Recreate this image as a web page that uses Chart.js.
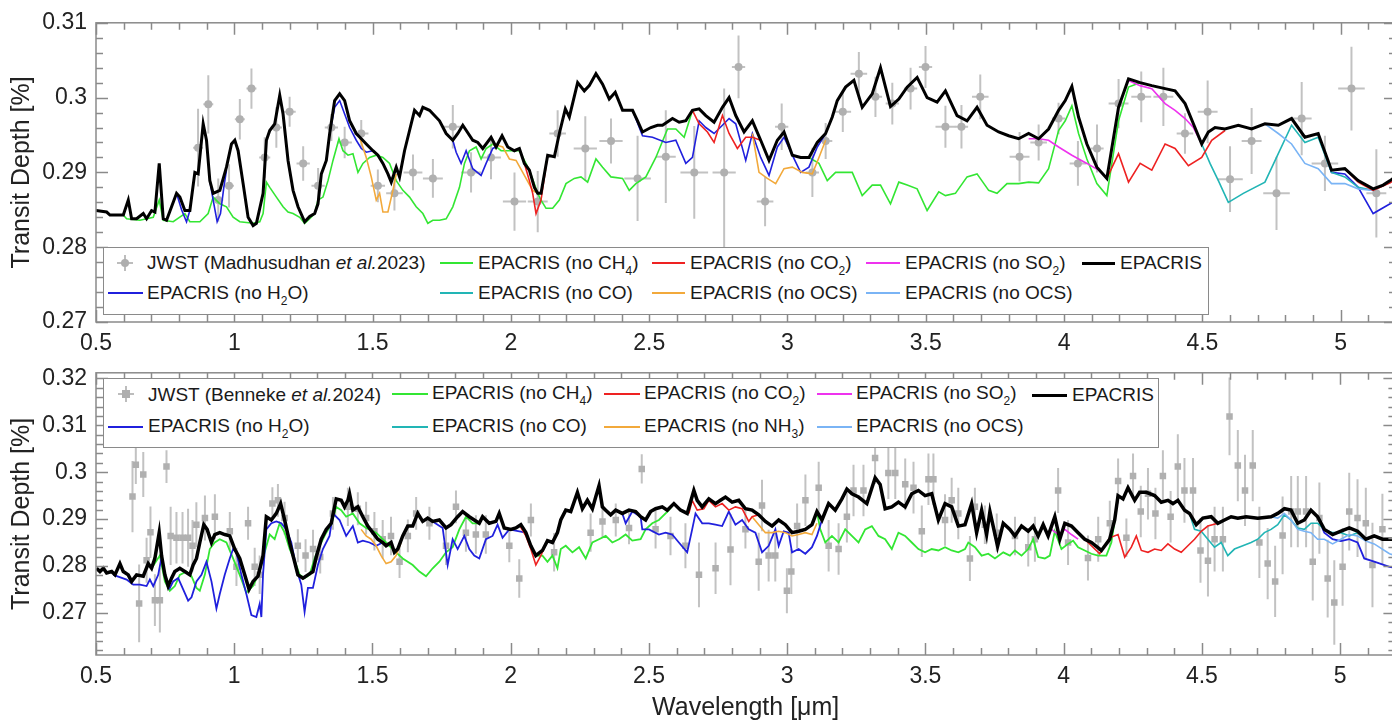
<!DOCTYPE html>
<html>
<head>
<meta charset="utf-8">
<script src="https://cdn.jsdelivr.net/npm/chart.js@4.4.0/dist/chart.umd.min.js"></script>
<style>
  html, body { margin: 0; padding: 0; overflow: hidden; background: #fff; }
  body { width: 1392px; height: 721px; position: relative; font-family: "Liberation Sans", Arial, sans-serif; }
  .wrap { position: absolute; left: 0; width: 1400px; }
  #wrapTop { top: 0; height: 350px; }
  #wrapBot { top: 350px; height: 371px; }
  .lg { position: absolute; border: 1px solid #8a8a8a; background: #fff; box-sizing: border-box; }
  .t { position: absolute; font-size: 19px; line-height: 22px; color: #1a1a1a; white-space: nowrap; }
  .t sub { font-size: 12px; line-height: 0; vertical-align: -6px; }
  .ln { position: absolute; height: 0; }
  .bar { position: absolute; background: #bdbdbd; }
  .dot { position: absolute; background: #aeaeae; }
</style>
</head>
<body>
<div class="wrap" id="wrapTop"><canvas id="topChart"></canvas></div>
<div class="wrap" id="wrapBot"><canvas id="botChart"></canvas></div>

<!-- top legend -->
<div class="lg" style="left:103px;top:247px;width:1106px;height:68px"></div>
<div class="bar" style="left:117px;top:262px;width:16px;height:2px"></div>
<div class="bar" style="left:124px;top:255px;width:2px;height:16px"></div>
<div class="dot" style="left:121px;top:259px;width:8px;height:8px;border-radius:50%"></div>
<div class="t" style="left:147px;top:252px">JWST (Madhusudhan <i>et al.</i>2023)</div>
<div class="ln" style="left:440px;top:262px;width:33px;border-top:2px solid #33e633"></div>
<div class="t" style="left:478px;top:252px">EPACRIS (no CH<sub>4</sub>)</div>
<div class="ln" style="left:652px;top:262px;width:33px;border-top:2px solid #ee2222"></div>
<div class="t" style="left:690px;top:252px">EPACRIS (no CO<sub>2</sub>)</div>
<div class="ln" style="left:866px;top:262px;width:34px;border-top:2px solid #ee33ee"></div>
<div class="t" style="left:905px;top:252px">EPACRIS (no SO<sub>2</sub>)</div>
<div class="ln" style="left:1082px;top:262px;width:33px;border-top:3px solid #000"></div>
<div class="t" style="left:1120px;top:252px">EPACRIS</div>
<div class="ln" style="left:108px;top:292px;width:35px;border-top:2px solid #2020dd"></div>
<div class="t" style="left:147px;top:282px">EPACRIS (no H<sub>2</sub>O)</div>
<div class="ln" style="left:440px;top:292px;width:33px;border-top:2px solid #22b5b5"></div>
<div class="t" style="left:478px;top:282px">EPACRIS (no CO)</div>
<div class="ln" style="left:652px;top:292px;width:33px;border-top:2px solid #f2a93b"></div>
<div class="t" style="left:690px;top:282px">EPACRIS (no OCS)</div>
<div class="ln" style="left:866px;top:292px;width:34px;border-top:2px solid #7ab4f5"></div>
<div class="t" style="left:905px;top:282px">EPACRIS (no OCS)</div>

<!-- bottom legend -->
<div class="lg" style="left:103px;top:378px;width:1056px;height:70px"></div>
<div class="bar" style="left:118px;top:393px;width:16px;height:2px"></div>
<div class="bar" style="left:125px;top:386px;width:2px;height:16px"></div>
<div class="dot" style="left:122px;top:390px;width:8px;height:8px"></div>
<div class="t" style="left:148px;top:384px">JWST (Benneke <i>et al.</i>2024)</div>
<div class="ln" style="left:392px;top:393px;width:36px;border-top:2px solid #33e633"></div>
<div class="t" style="left:432px;top:382px">EPACRIS (no CH<sub>4</sub>)</div>
<div class="ln" style="left:604px;top:393px;width:36px;border-top:2px solid #ee2222"></div>
<div class="t" style="left:644px;top:382px">EPACRIS (no CO<sub>2</sub>)</div>
<div class="ln" style="left:817px;top:393px;width:35px;border-top:2px solid #ee33ee"></div>
<div class="t" style="left:856px;top:382px">EPACRIS (no SO<sub>2</sub>)</div>
<div class="ln" style="left:1032px;top:394px;width:35px;border-top:3px solid #000"></div>
<div class="t" style="left:1072px;top:384px">EPACRIS</div>
<div class="ln" style="left:108px;top:426px;width:35px;border-top:2px solid #2020dd"></div>
<div class="t" style="left:148px;top:415px">EPACRIS (no H<sub>2</sub>O)</div>
<div class="ln" style="left:392px;top:426px;width:36px;border-top:2px solid #22b5b5"></div>
<div class="t" style="left:432px;top:415px">EPACRIS (no CO)</div>
<div class="ln" style="left:604px;top:426px;width:36px;border-top:2px solid #f2a93b"></div>
<div class="t" style="left:644px;top:415px">EPACRIS (no NH<sub>3</sub>)</div>
<div class="ln" style="left:817px;top:426px;width:35px;border-top:2px solid #7ab4f5"></div>
<div class="t" style="left:856px;top:415px">EPACRIS (no OCS)</div>

<script>
const FONT = '"Liberation Sans", Arial, sans-serif';

// axis ticks
const X_TICKS = [0.5, 1, 1.5, 2, 2.5, 3, 3.5, 4, 4.5, 5];
const TOP_Y_TICKS = [0.27, 0.28, 0.29, 0.3, 0.31];
const BOT_Y_TICKS = [0.27, 0.28, 0.29, 0.3, 0.31, 0.32];

// ---- top panel (Madhusudhan et al. 2023) ----
// observations: [wavelength, depth, yErr, xErr]
const TOP_OBS = [
  [0.869,0.2933,0.0052,0.018],[0.906,0.2991,0.0039,0.018],[0.942,0.2863,0.0029,0.018],[0.981,0.2882,0.0029,0.018],
  [1.020,0.2971,0.0027,0.018],[1.062,0.3012,0.0027,0.018],[1.110,0.2920,0.0027,0.020],[1.152,0.2960,0.0027,0.020],
  [1.200,0.2981,0.0020,0.022],[1.249,0.2912,0.0023,0.024],[1.303,0.2882,0.0024,0.024],[1.351,0.2960,0.0018,0.024],
  [1.399,0.2940,0.0021,0.026],[1.459,0.2952,0.0018,0.026],[1.519,0.2882,0.0022,0.026],[1.579,0.2872,0.0023,0.030],
  [1.646,0.2900,0.0024,0.034],[1.718,0.2892,0.0026,0.036],[1.790,0.2961,0.0029,0.036],[1.856,0.2900,0.0027,0.036],
  [1.928,0.2920,0.0029,0.036],[2.013,0.2861,0.0039,0.042],[2.097,0.2861,0.0041,0.036],[2.169,0.2952,0.0031,0.030],
  [2.269,0.2932,0.0043,0.042],[2.362,0.2942,0.0030,0.042],[2.458,0.2892,0.0057,0.048],[2.560,0.2921,0.0062,0.036],
  [2.663,0.2900,0.0062,0.050],[2.771,0.2900,0.0112,0.042],[2.823,0.3041,0.0042,0.024],[2.919,0.2861,0.0033,0.030],
  [2.979,0.2961,0.0031,0.024],[3.090,0.2900,0.0033,0.024],[3.138,0.2942,0.0024,0.024],[3.200,0.2981,0.0027,0.030],
  [3.258,0.3032,0.0029,0.030],[3.318,0.3001,0.0027,0.024],[3.379,0.2992,0.0028,0.024],[3.445,0.3012,0.0028,0.024],
  [3.499,0.3041,0.0028,0.024],[3.571,0.2961,0.0028,0.036],[3.629,0.2961,0.0029,0.024],[3.697,0.3001,0.0030,0.030],
  [3.839,0.2921,0.0033,0.036],[3.908,0.2940,0.0024,0.030],[3.980,0.2972,0.0021,0.024],[4.050,0.2912,0.0030,0.030],
  [4.119,0.2932,0.0032,0.024],[4.197,0.2992,0.0033,0.036],[4.279,0.3001,0.0034,0.036],[4.359,0.3001,0.0039,0.036],
  [4.437,0.2952,0.0027,0.030],[4.519,0.2981,0.0042,0.036],[4.600,0.2891,0.0044,0.046],[4.678,0.2942,0.0044,0.036],
  [4.768,0.2872,0.0049,0.048],[4.859,0.2972,0.0049,0.036],[4.943,0.2912,0.0037,0.048],[5.039,0.3012,0.0056,0.048],
  [5.129,0.2872,0.0059,0.036]
];

const TOP_EPACRIS = [[
  [0.500,0.2849],[0.5385,0.2847],[0.5505,0.2843],[0.5746,0.2843],[0.5987,0.2843],[0.6167,0.2863],[0.6288,0.2838],[0.6468,0.2838],
  [0.6709,0.2845],[0.6829,0.2838],[0.7010,0.2849],[0.7130,0.2847],[0.7286,0.2912],[0.7431,0.2838],[0.7551,0.2836],[0.7732,0.2854],
  [0.7912,0.2872],[0.8032,0.2867],[0.8213,0.2849],[0.8394,0.2849],[0.8574,0.2900],[0.8694,0.2898],[0.8875,0.2965],[0.8995,0.2943],
  [0.9116,0.2889],[0.9236,0.2872],[0.9477,0.2876],[0.9717,0.2907],[0.9898,0.2938],[1.0018,0.2943],[1.0138,0.2929],[1.0319,0.2885],
  [1.0499,0.2840],[1.0680,0.2829],[1.0800,0.2832],[1.1041,0.2872],[1.1161,0.2943],[1.1282,0.2956],[1.1462,0.2965],[1.1643,0.3003],
  [1.1763,0.2978],[1.1943,0.2916],[1.2124,0.2876],[1.2304,0.2854],[1.2545,0.2834],[1.2726,0.2841],[1.2906,0.2845],[1.3026,0.2858],
  [1.3147,0.2898],[1.3327,0.2916],[1.3448,0.2952],[1.3628,0.2996],[1.3809,0.3005],[1.3989,0.2996],[1.4170,0.2969],[1.4410,0.2952],
  [1.4591,0.2945],[1.4771,0.2938],[1.5012,0.2929],[1.5193,0.2923],[1.5373,0.2912],[1.5554,0.2898],[1.5674,0.2887],[1.5854,0.2907],
  [1.5975,0.2894],[1.6155,0.2929],[1.6336,0.2956],[1.6516,0.2983],[1.6697,0.2976],[1.6817,0.2987],[1.7058,0.2983],[1.7419,0.2969],
  [1.7660,0.2952],[1.7900,0.2943],[1.8081,0.2952],[1.8261,0.2963],[1.8622,0.2943],[1.8803,0.2940],[1.8983,0.2932],[1.9284,0.2947],
  [1.9465,0.2934],[1.9681,0.2949],[1.9886,0.2934],[2.0127,0.2929],[2.0307,0.2932],[2.0488,0.2912],[2.0668,0.2903],[2.0849,0.2880],
  [2.0969,0.2872],[2.1089,0.2872],[2.1330,0.2923],[2.1571,0.2921],[2.1751,0.2952],[2.1968,0.2985],[2.2112,0.2974],[2.2413,0.3020],
  [2.2654,0.3009],[2.2834,0.3016],[2.3075,0.3032],[2.3315,0.3018],[2.3556,0.2998],[2.3773,0.3007],[2.4037,0.2983],[2.4398,0.2983],
  [2.4579,0.2969],[2.4759,0.2954],[2.5060,0.2960],[2.5301,0.2963],[2.5481,0.2963],[2.5842,0.2972],[2.6083,0.2967],[2.6324,0.2969],
  [2.6564,0.2983],[2.6805,0.2985],[2.7046,0.2976],[2.7346,0.2967],[2.7648,0.2987],[2.7888,0.3000],[2.8129,0.2976],[2.8430,0.2954],
  [2.8730,0.2969],[2.9031,0.2943],[2.9332,0.2916],[2.9633,0.2943],[2.9874,0.2954],[3.0175,0.2923],[3.0475,0.2920],[3.0776,0.2920],
  [3.1077,0.2940],[3.1378,0.2952],[3.1619,0.2974],[3.1799,0.2996],[3.2100,0.3014],[3.2401,0.3023],[3.2702,0.2987],[3.3063,0.3005],
  [3.3363,0.3040],[3.3724,0.2988],[3.4025,0.2998],[3.4326,0.3014],[3.4687,0.3027],[3.5048,0.3000],[3.5409,0.2994],[3.5710,0.3009],
  [3.6131,0.2976],[3.6492,0.2969],[3.6853,0.2987],[3.7214,0.2963],[3.7635,0.2954],[3.7996,0.2949],[3.8357,0.2945],[3.8718,0.2952],
  [3.9079,0.2945],[3.9440,0.2958],[3.9801,0.2983],[4.0042,0.2996],[4.0282,0.3015],[4.0523,0.2974],[4.0824,0.2938],[4.1185,0.2907],
  [4.1546,0.2892],[4.1968,0.2987],[4.2329,0.3025],[4.2749,0.3020],[4.3171,0.3016],[4.3652,0.3012],[4.4013,0.3009],[4.4374,0.2992],
  [4.4675,0.2965],[4.4976,0.2938],[4.5216,0.2954],[4.5457,0.2960],[4.5818,0.2958],[4.6299,0.2963],[4.6781,0.2958],[4.7262,0.2965],
  [4.7744,0.2963],[4.8225,0.2972],[4.8706,0.2947],[4.9187,0.2952],[4.9669,0.2903],[5.0150,0.2905],[5.0632,0.2889],[5.1173,0.2878],
  [5.1534,0.2883],[5.1787,0.2889],[5.2000,0.2895]
]];

const TOP_NO_CH4 = [
  [[0.5987,0.2843],[0.6107,0.2838],[0.6588,0.2836],[0.7070,0.2840],[0.7286,0.2863],[0.7431,0.2836],[0.7792,0.2834],[0.8213,0.2845],
   [0.8394,0.2834],[0.8755,0.2834],[0.9055,0.2845],[0.9236,0.2867],[0.9477,0.2858],[0.9717,0.2854],[0.9958,0.2840],[1.0199,0.2834],
   [1.0680,0.2832],[1.0921,0.2834],[1.1041,0.2845],[1.1161,0.2887],[1.1282,0.2880],[1.1522,0.2867],[1.1763,0.2854],[1.1943,0.2847],
   [1.2124,0.2845],[1.2365,0.2840],[1.2545,0.2832],[1.2726,0.2838],[1.2906,0.2845],[1.3026,0.2863],[1.3207,0.2867],[1.3388,0.2889],
   [1.3568,0.2916],[1.3785,0.2945],[1.3929,0.2929],[1.4110,0.2923],[1.4290,0.2925],[1.4471,0.2900],[1.4651,0.2912],[1.4892,0.2920],
   [1.5132,0.2923],[1.5373,0.2920],[1.5614,0.2912],[1.5854,0.2889],[1.6095,0.2876],[1.6336,0.2867],[1.6576,0.2854],[1.6817,0.2845],
   [1.6998,0.2832],[1.7178,0.2836],[1.7419,0.2836],[1.7660,0.2838],[1.7900,0.2854],[1.8141,0.2880],[1.8322,0.2912],[1.8502,0.2929],
   [1.8742,0.2934],[1.8923,0.2918],[1.9104,0.2932],[1.9344,0.2938],[1.9645,0.2929],[1.9946,0.2929],[2.0307,0.2929],[2.0668,0.2903],
   [2.0969,0.2872],[2.1089,0.2863],[2.1270,0.2852],[2.1510,0.2852],[2.1751,0.2863],[2.1992,0.2885],[2.2292,0.2892],[2.2533,0.2894],
   [2.2774,0.2887],[2.3075,0.2918],[2.3315,0.2907],[2.3616,0.2894],[2.4037,0.2892],[2.4278,0.2876],[2.4519,0.2885],[2.4880,0.2894],
   [2.5241,0.2920],[2.5662,0.2958],[2.5963,0.2958],[2.6264,0.2947],[2.6564,0.2983]],
  [[3.0776,0.2920],[3.1138,0.2912],[3.1438,0.2889],[3.1739,0.2900],[3.2341,0.2900],[3.2702,0.2869],[3.3063,0.2883],[3.3363,0.2883],
   [3.3724,0.2858],[3.4025,0.2887],[3.4326,0.2883],[3.4687,0.2878],[3.5048,0.2849],[3.5470,0.2874],[3.5710,0.2869],[3.6071,0.2872],
   [3.6492,0.2894],[3.6853,0.2898],[3.7274,0.2876],[3.7575,0.2872],[3.7936,0.2885],[3.8357,0.2885],[3.8718,0.2887],[3.9079,0.2886],
   [3.9440,0.2905],[3.9801,0.2956],[4.0042,0.2969],[4.0282,0.2989],[4.0523,0.2952],[4.0824,0.2918],[4.1185,0.2885],[4.1546,0.2869],
   [4.1968,0.2969],[4.2329,0.3014],[4.2749,0.3020]]
];

const TOP_NO_H2O = [
  [[0.7912,0.2872],[0.8093,0.2850],[0.8273,0.2834],[0.8394,0.2849]],
  [[0.9116,0.2889],[0.9236,0.2863],[0.9380,0.2834],[0.9501,0.2845],[0.9621,0.2880],[0.9717,0.2903]],
  [[1.3448,0.2952],[1.3628,0.2987],[1.3809,0.2996],[1.3989,0.2978],[1.4170,0.2960],[1.4410,0.2943],[1.4591,0.2932],[1.4771,0.2927],[1.5012,0.2929]],
  [[1.7900,0.2943],[1.8021,0.2927],[1.8201,0.2912],[1.8382,0.2929],[1.8622,0.2905],[1.8923,0.2896],[1.9104,0.2912],[1.9344,0.2932],[1.9465,0.2934]],
  [[2.4037,0.2983],[2.4398,0.2983],[2.4759,0.2949],[2.5120,0.2947],[2.5602,0.2940],[2.5963,0.2943],[2.6324,0.2912],[2.6564,0.2920],
   [2.6805,0.2969],[2.7046,0.2960],[2.7346,0.2952],[2.7648,0.2963],[2.7888,0.2972],[2.8129,0.2965],[2.8490,0.2916],[2.8730,0.2952],
   [2.9031,0.2920],[2.9332,0.2896],[2.9633,0.2934],[2.9874,0.2947],[3.0175,0.2923],[3.0475,0.2900],[3.0776,0.2907],[3.1077,0.2934],[3.1378,0.2952]],
  [[4.9187,0.2952],[4.9669,0.2900],[5.0150,0.2898],[5.0632,0.2880],[5.1173,0.2845],[5.1787,0.2858],[5.2000,0.2862]]
];

const TOP_NO_CO2 = [
  [[2.0488,0.2912],[2.0668,0.2889],[2.0788,0.2872],[2.0909,0.2845],[2.1089,0.2863],[2.1330,0.2923]],
  [[2.6564,0.2983],[2.6805,0.2965],[2.7106,0.2954],[2.7346,0.2940],[2.7648,0.2976],[2.7888,0.2952],[2.8189,0.2932],[2.8490,0.2947],[2.8730,0.2947],[2.9031,0.2943]],
  [[4.1546,0.2892],[4.1968,0.2925],[4.2329,0.2887],[4.2749,0.2912],[4.3171,0.2903],[4.3652,0.2938],[4.4013,0.2932],[4.4494,0.2909],[4.4976,0.2920],[4.5337,0.2943],[4.5818,0.2956]],
  [[5.0150,0.2905],[5.0632,0.2887],[5.1173,0.2876],[5.1787,0.2886],[5.2000,0.2892]]
];

const TOP_NO_SO2 = [
  [[3.8718,0.2945],[3.9079,0.2945],[3.9440,0.2943],[3.9801,0.2934],[4.0282,0.2923],[4.0824,0.2912],[4.1245,0.2903],[4.1546,0.2892]],
  [[4.2329,0.3023],[4.2749,0.3016],[4.3171,0.3012],[4.3652,0.2992],[4.4013,0.2983],[4.4374,0.2972],[4.4675,0.2960],[4.4976,0.2938]]
];

const TOP_NO_CO = [
  [[4.4976,0.2938],[4.5276,0.2912],[4.5577,0.2889],[4.5938,0.2860],[4.6480,0.2872],[4.7262,0.2887],[4.7744,0.2925],[4.8225,0.2963],
   [4.8706,0.2940],[4.9187,0.2947],[4.9669,0.2900],[5.0150,0.2894],[5.0632,0.2880],[5.1173,0.2876],[5.1787,0.2887]]
];

const TOP_NO_OCS = [
  [[1.4531,0.2947],[1.4771,0.2920],[1.4952,0.2894],[1.5132,0.2863],[1.5253,0.2872],[1.5373,0.2847],[1.5554,0.2847],[1.5734,0.2876],[1.5854,0.2898]],
  [[1.9344,0.2938],[1.9705,0.2934],[1.9946,0.2918],[2.0187,0.2916],[2.0427,0.2900],[2.0788,0.2876],[2.0969,0.2872]],
  [[2.8730,0.2952],[2.8971,0.2900],[2.9272,0.2892],[2.9573,0.2885],[2.9874,0.2905],[3.0175,0.2907],[3.0535,0.2900],[3.0897,0.2898],[3.1138,0.2920],[3.1378,0.2943]]
];

const TOP_NO_OCS_B = [
  [[4.7262,0.2965],[4.7744,0.2952],[4.8225,0.2938],[4.8706,0.2912],[4.9187,0.2905],[4.9669,0.2885],[5.0150,0.2885],[5.0632,0.2878],
   [5.1173,0.2876],[5.1787,0.2887],[5.2000,0.2890]]
];

// ---- bottom panel (Benneke et al. 2024) ----
// observations: [wavelength, depth, yErr]
const BOT_OBS = [
  [0.632,0.2948,0.0076],[0.644,0.3016,0.0041],[0.656,0.2720,0.0083],[0.671,0.2995,0.0048],[0.683,0.2812,0.0048],[0.697,0.2872,0.0055],
  [0.713,0.2727,0.0055],[0.731,0.2727,0.0069],[0.755,0.3012,0.0035],[0.770,0.2864,0.0062],[0.791,0.2860,0.0055],[0.813,0.2860,0.0055],
  [0.833,0.2860,0.0062],[0.849,0.2843,0.0055],[0.863,0.2888,0.0048],[0.894,0.2902,0.0048],[0.930,0.2905,0.0048],[0.984,0.2874,0.0041],
  [1.008,0.2798,0.0041],[1.050,0.2891,0.0035],[1.074,0.2798,0.0041],[1.092,0.2781,0.0041],[1.138,0.2933,0.0035],[1.158,0.2940,0.0035],
  [1.182,0.2902,0.0035],[1.230,0.2843,0.0035],[1.258,0.2822,0.0035],[1.285,0.2836,0.0041],[1.311,0.2819,0.0035],[1.357,0.2912,0.0035],
  [1.411,0.2926,0.0041],[1.447,0.2922,0.0035],[1.477,0.2902,0.0035],[1.507,0.2874,0.0041],[1.537,0.2857,0.0041],[1.567,0.2864,0.0041],
  [1.598,0.2809,0.0035],[1.628,0.2864,0.0035],[1.658,0.2912,0.0035],[1.706,0.2891,0.0035],[1.766,0.2843,0.0041],[1.802,0.2926,0.0035],
  [1.838,0.2871,0.0041],[1.874,0.2867,0.0041],[1.910,0.2867,0.0041],[1.995,0.2843,0.0035],[2.031,0.2773,0.0041],[2.073,0.2898,0.0035],
  [2.157,0.2829,0.0041],[2.289,0.2871,0.0041],[2.332,0.2895,0.0035],[2.380,0.2898,0.0035],[2.428,0.2881,0.0035],[2.474,0.3007,0.0031],
  [2.524,0.2878,0.0041],[2.578,0.2864,0.0041],[2.632,0.2843,0.0048],[2.681,0.2781,0.0069],[2.741,0.2795,0.0055],[2.795,0.2835,0.0076],
  [2.849,0.2878,0.0041],[2.897,0.2809,0.0062],[2.909,0.2929,0.0055],[2.933,0.2822,0.0055],[2.957,0.2822,0.0055],[2.999,0.2747,0.0048],
  [3.015,0.2788,0.0048],[3.036,0.2885,0.0048],[3.066,0.2940,0.0055],[3.114,0.2967,0.0055],[3.150,0.2843,0.0055],[3.186,0.2836,0.0055],
  [3.216,0.2905,0.0055],[3.240,0.2961,0.0055],[3.276,0.2961,0.0055],[3.318,0.3030,0.0055],[3.366,0.2998,0.0055],[3.391,0.2998,0.0055],
  [3.427,0.2974,0.0055],[3.457,0.2967,0.0055],[3.487,0.2874,0.0055],[3.511,0.2985,0.0055],[3.529,0.2985,0.0055],[3.571,0.2898,0.0055],
  [3.595,0.2940,0.0048],[3.619,0.2912,0.0055],[3.661,0.2816,0.0048],[3.679,0.2926,0.0041],[3.715,0.2888,0.0041],[3.758,0.2871,0.0041],
  [3.824,0.2864,0.0041],[3.872,0.2840,0.0041],[3.896,0.2857,0.0048],[3.980,0.2961,0.0048],[4.016,0.2850,0.0048],[4.088,0.2817,0.0048],
  [4.125,0.2857,0.0048],[4.167,0.2891,0.0048],[4.197,0.2981,0.0048],[4.227,0.2860,0.0041],[4.251,0.2992,0.0048],[4.279,0.2916,0.0055],
  [4.305,0.2954,0.0055],[4.332,0.2912,0.0055],[4.359,0.2992,0.0055],[4.387,0.2905,0.0055],[4.413,0.3012,0.0069],[4.437,0.2961,0.0069],
  [4.468,0.2961,0.0069],[4.495,0.2833,0.0069],[4.522,0.2811,0.0076],[4.546,0.2857,0.0069],[4.576,0.2857,0.0069],[4.600,0.3119,0.0083],
  [4.630,0.3014,0.0076],[4.656,0.2961,0.0076],[4.684,0.3014,0.0076],[4.708,0.2850,0.0076],[4.738,0.2805,0.0076],[4.765,0.2767,0.0076],
  [4.792,0.2865,0.0083],[4.823,0.2916,0.0076],[4.847,0.2916,0.0076],[4.877,0.2916,0.0076],[4.901,0.2809,0.0083],[4.925,0.2902,0.0076],
  [4.955,0.2773,0.0083],[4.979,0.2722,0.0090],[5.009,0.2798,0.0083],[5.033,0.2916,0.0083],[5.063,0.2902,0.0083],[5.093,0.2891,0.0076],
  [5.117,0.2802,0.0090],[5.153,0.2878,0.0076]
];

const BOT_EPACRIS = [[
  [0.502,0.2795],[0.5144,0.2788],[0.5265,0.2795],[0.5385,0.2785],[0.5566,0.2788],[0.5686,0.2781],[0.5866,0.2805],[0.5987,0.2788],
  [0.6167,0.2781],[0.6288,0.2767],[0.6468,0.2781],[0.6709,0.2778],[0.6889,0.2805],[0.7010,0.2795],[0.7130,0.2816],[0.7286,0.2871],
  [0.7371,0.2822],[0.7491,0.2781],[0.7611,0.2757],[0.7732,0.2774],[0.7852,0.2788],[0.8032,0.2795],[0.8213,0.2788],[0.8394,0.2781],
  [0.8514,0.2802],[0.8634,0.2816],[0.8755,0.2850],[0.8899,0.2888],[0.9019,0.2878],[0.9176,0.2850],[0.9296,0.2867],[0.9477,0.2871],
  [0.9657,0.2867],[0.9838,0.2864],[1.0018,0.2836],[1.0199,0.2816],[1.0379,0.2781],[1.0535,0.2750],[1.0680,0.2767],[1.0860,0.2778],
  [1.1041,0.2822],[1.1161,0.2905],[1.1342,0.2898],[1.1522,0.2912],[1.1679,0.2933],[1.1823,0.2898],[1.2004,0.2850],[1.2184,0.2809],
  [1.2304,0.2781],[1.2485,0.2774],[1.2665,0.2781],[1.2846,0.2788],[1.2966,0.2819],[1.3147,0.2857],[1.3327,0.2878],[1.3508,0.2891],
  [1.3688,0.2943],[1.3869,0.2940],[1.3989,0.2926],[1.4110,0.2940],[1.4170,0.2954],[1.4290,0.2919],[1.4471,0.2926],[1.4651,0.2905],
  [1.4832,0.2885],[1.5012,0.2871],[1.5193,0.2857],[1.5373,0.2850],[1.5493,0.2843],[1.5674,0.2850],[1.5794,0.2829],[1.5915,0.2836],
  [1.6095,0.2864],[1.6276,0.2885],[1.6456,0.2885],[1.6637,0.2912],[1.6817,0.2895],[1.6998,0.2902],[1.7178,0.2895],[1.7419,0.2898],
  [1.7660,0.2881],[1.7840,0.2888],[1.8081,0.2905],[1.8261,0.2916],[1.8502,0.2905],[1.8682,0.2898],[1.8863,0.2891],[1.8983,0.2905],
  [1.9224,0.2891],[1.9465,0.2895],[1.9585,0.2912],[1.9766,0.2881],[2.0006,0.2878],[2.0187,0.2881],[2.0367,0.2888],[2.0548,0.2871],
  [2.0728,0.2843],[2.0909,0.2822],[2.1149,0.2833],[2.1330,0.2854],[2.1510,0.2850],[2.1691,0.2871],[2.1811,0.2898],[2.1992,0.2919],
  [2.2172,0.2916],[2.2413,0.2957],[2.2593,0.2922],[2.2774,0.2940],[2.2954,0.2922],[2.3075,0.2947],[2.3195,0.2971],[2.3315,0.2926],
  [2.3436,0.2919],[2.3616,0.2909],[2.3797,0.2919],[2.4037,0.2912],[2.4278,0.2919],[2.4519,0.2916],[2.4699,0.2905],[2.4880,0.2898],
  [2.5060,0.2916],[2.5241,0.2922],[2.5481,0.2926],[2.5662,0.2919],[2.5903,0.2933],[2.6143,0.2919],[2.6384,0.2912],[2.6625,0.2961],
  [2.6745,0.2940],[2.6926,0.2926],[2.7166,0.2943],[2.7407,0.2933],[2.7587,0.2940],[2.7768,0.2947],[2.8009,0.2936],[2.8249,0.2940],
  [2.8490,0.2922],[2.8731,0.2919],[2.8971,0.2909],[2.9212,0.2895],[2.9453,0.2885],[2.9693,0.2898],[2.9934,0.2888],[3.0175,0.2871],
  [3.0415,0.2874],[3.0656,0.2878],[3.0897,0.2888],[3.1077,0.2916],[3.1258,0.2898],[3.1499,0.2933],[3.1739,0.2919],[3.1980,0.2943],
  [3.2160,0.2964],[3.2341,0.2954],[3.2581,0.2947],[3.2882,0.2933],[3.3183,0.2988],[3.3363,0.2974],[3.3544,0.2922],[3.3785,0.2926],
  [3.4025,0.2936],[3.4266,0.2926],[3.4507,0.2954],[3.4747,0.2961],[3.4988,0.2950],[3.5228,0.2954],[3.5469,0.2898],[3.5710,0.2933],
  [3.5950,0.2926],[3.6191,0.2885],[3.6432,0.2888],[3.6672,0.2933],[3.6853,0.2871],[3.7034,0.2919],[3.7214,0.2867],[3.7334,0.2916],
  [3.7611,0.2842],[3.7816,0.2891],[3.8056,0.2878],[3.8237,0.2864],[3.8477,0.2885],[3.8718,0.2874],[3.8898,0.2885],[3.9079,0.2864],
  [3.9260,0.2888],[3.9440,0.2864],[3.9681,0.2905],[3.9861,0.2857],[4.0042,0.2891],[4.0282,0.2885],[4.0523,0.2871],[4.0764,0.2857],
  [4.1004,0.2850],[4.1365,0.2833],[4.1666,0.2857],[4.1847,0.2898],[4.1967,0.2950],[4.2148,0.2943],[4.2328,0.2967],[4.2569,0.2940],
  [4.2749,0.2957],[4.2990,0.2957],[4.3291,0.2950],[4.3531,0.2936],[4.3772,0.2940],[4.3953,0.2933],[4.4133,0.2940],[4.4374,0.2919],
  [4.4555,0.2912],[4.4795,0.2888],[4.5036,0.2902],[4.5337,0.2905],[4.5577,0.2891],[4.5818,0.2898],[4.6059,0.2905],[4.6299,0.2902],
  [4.6600,0.2905],[4.7021,0.2902],[4.7503,0.2905],[4.7744,0.2912],[4.7984,0.2922],[4.8225,0.2919],[4.8465,0.2891],[4.8706,0.2898],
  [4.8947,0.2919],[4.9187,0.2905],[4.9428,0.2878],[4.9729,0.2867],[5.0030,0.2874],[5.0331,0.2881],[5.0632,0.2874],[5.0932,0.2857],
  [5.1233,0.2864],[5.1534,0.2857],[5.1787,0.2857],[5.2000,0.2857]
]];

const BOT_NO_CH4 = [
  [[0.7010,0.2795],[0.7310,0.2822],[0.7491,0.2767],[0.7671,0.2747],[0.7852,0.2757],[0.8032,0.2781],[0.8273,0.2788],[0.8454,0.2778],
   [0.8634,0.2753],[0.8755,0.2747],[0.8935,0.2781],[0.9116,0.2836],[0.9296,0.2850],[0.9477,0.2857],[0.9717,0.2850],[0.9958,0.2816],
   [1.0199,0.2781],[1.0439,0.2743],[1.0680,0.2757],[1.0921,0.2788],[1.1101,0.2829],[1.1282,0.2867],[1.1462,0.2857],[1.1643,0.2891],
   [1.1823,0.2871],[1.2004,0.2836],[1.2184,0.2812],[1.2365,0.2781],[1.2545,0.2774],[1.2726,0.2781],[1.2906,0.2816],[1.3087,0.2843],
   [1.3327,0.2871],[1.3508,0.2888],[1.3688,0.2926],[1.3869,0.2919],[1.4049,0.2905],[1.4290,0.2912],[1.4531,0.2891],[1.4771,0.2881],
   [1.5132,0.2871],[1.5493,0.2850],[1.5854,0.2829],[1.6095,0.2816],[1.6456,0.2802],[1.6697,0.2788],[1.6937,0.2778],[1.7178,0.2795],
   [1.7419,0.2809],[1.7660,0.2829],[1.7900,0.2840],[1.8141,0.2878],[1.8382,0.2905],[1.8622,0.2891],[1.8863,0.2891]],
  [[2.0909,0.2822],[2.1149,0.2822],[2.1330,0.2809],[2.1510,0.2822],[2.1691,0.2795],[2.1811,0.2836],[2.1992,0.2843],[2.2232,0.2829],
   [2.2473,0.2840],[2.2714,0.2816],[2.2954,0.2850],[2.3195,0.2857],[2.3436,0.2864],[2.3676,0.2850],[2.3917,0.2857],[2.4158,0.2867],
   [2.4398,0.2854],[2.4699,0.2857],[2.4880,0.2878],[2.5120,0.2891],[2.5361,0.2898],[2.5722,0.2919],[2.5903,0.2933]],
  [[3.1077,0.2916],[3.1197,0.2878],[3.1378,0.2850],[3.1619,0.2864],[3.1860,0.2850],[3.2100,0.2878],[3.2341,0.2864],[3.2581,0.2850],
   [3.2822,0.2878],[3.3063,0.2885],[3.3303,0.2864],[3.3544,0.2857],[3.3785,0.2836],[3.4025,0.2871],[3.4266,0.2864],[3.4507,0.2850],
   [3.4747,0.2836],[3.4988,0.2829],[3.5228,0.2836],[3.5469,0.2833],[3.5710,0.2840],[3.5950,0.2833],[3.6191,0.2829],[3.6432,0.2836],
   [3.6552,0.2850],[3.6793,0.2840],[3.7034,0.2822],[3.7274,0.2826],[3.7515,0.2816],[3.7816,0.2829],[3.8056,0.2822],[3.8237,0.2833],
   [3.8477,0.2822],[3.8718,0.2836],[3.8898,0.2857],[3.9079,0.2819],[3.9320,0.2816],[3.9500,0.2822],[3.9681,0.2874],[3.9921,0.2836],
   [4.0162,0.2847],[4.0343,0.2854],[4.0523,0.2840],[4.0764,0.2833],[4.1004,0.2826],[4.1245,0.2822],[4.1546,0.2822],[4.1727,0.2850],
   [4.1847,0.2898]]
];

const BOT_NO_H2O = [
  [[0.5626,0.2781],[0.6107,0.2771],[0.6348,0.2760],[0.6588,0.2760],[0.6829,0.2757],[0.6949,0.2771],[0.7070,0.2757],[0.7250,0.2781],
   [0.7371,0.2819],[0.7491,0.2781],[0.7671,0.2753],[0.7792,0.2767],[0.7972,0.2774],[0.8153,0.2750],[0.8333,0.2726],[0.8454,0.2733],
   [0.8634,0.2767],[0.8815,0.2781],[0.8995,0.2809],[0.9176,0.2767],[0.9356,0.2709],[0.9477,0.2740],[0.9657,0.2781],[0.9838,0.2816],
   [0.9958,0.2836],[1.0078,0.2829],[1.0259,0.2781],[1.0439,0.2740],[1.0620,0.2695],[1.0800,0.2691],[1.0921,0.2719],[1.0981,0.2691],
   [1.1041,0.2781],[1.1161,0.2878],[1.1342,0.2891],[1.1522,0.2895],[1.1703,0.2891],[1.1883,0.2878],[1.2064,0.2850],[1.2244,0.2795],
   [1.2425,0.2760],[1.2545,0.2702],[1.2665,0.2753],[1.2846,0.2753],[1.3026,0.2802],[1.3207,0.2836],[1.3448,0.2864],[1.3568,0.2912],
   [1.3809,0.2898],[1.4049,0.2864],[1.4290,0.2885],[1.4471,0.2850],[1.4651,0.2854],[1.4892,0.2850],[1.5132,0.2843],[1.5373,0.2850]],
  [[1.7178,0.2895],[1.7539,0.2881],[1.7720,0.2802],[1.7900,0.2857],[1.8081,0.2836],[1.8322,0.2864],[1.8502,0.2836],[1.8682,0.2822],
   [1.8863,0.2816],[1.9104,0.2857],[1.9344,0.2864],[1.9525,0.2888],[1.9705,0.2860],[1.9946,0.2878],[2.0548,0.2871]],
  [[2.4037,0.2912],[2.4158,0.2891],[2.4398,0.2916],[2.4699,0.2905],[2.4759,0.2878],[2.5000,0.2878],[2.5361,0.2867],[2.5602,0.2871],
   [2.5842,0.2867],[2.6083,0.2850],[2.6384,0.2829],[2.6564,0.2878],[2.6685,0.2912],[2.6926,0.2891],[2.7166,0.2891],[2.7407,0.2888],
   [2.7648,0.2885],[2.7888,0.2916],[2.8129,0.2888],[2.8370,0.2898],[2.8610,0.2878],[2.8851,0.2871],[2.9092,0.2829],[2.9332,0.2843],
   [2.9573,0.2878],[2.9693,0.2843],[2.9874,0.2874],[3.0054,0.2871],[3.0175,0.2829],[3.0415,0.2836],[3.0656,0.2826],[3.0897,0.2840],
   [3.1077,0.2864],[3.1258,0.2898]],
  [[4.9187,0.2905],[4.9428,0.2871],[4.9729,0.2857],[5.0030,0.2853],[5.0331,0.2857],[5.0632,0.2850],[5.0872,0.2816],[5.1233,0.2809],
   [5.1787,0.2798],[5.2000,0.2796]]
];

const BOT_NO_CO2 = [
  [[2.0307,0.2888],[2.0548,0.2864],[2.0728,0.2836],[2.0909,0.2802],[2.1089,0.2822],[2.1330,0.2854]],
  [[2.6444,0.2912],[2.6564,0.2940],[2.6745,0.2919],[2.6986,0.2922],[2.7166,0.2940],[2.7407,0.2926],[2.7648,0.2933],[2.7888,0.2919],
   [2.8129,0.2926],[2.8370,0.2922],[2.8610,0.2895],[2.8731,0.2905],[2.8971,0.2909]],
  [[4.0523,0.2871],[4.0764,0.2857],[4.1004,0.2843],[4.1305,0.2826],[4.1666,0.2860],[4.1967,0.2867],[4.2208,0.2819],[4.2449,0.2840],
   [4.2629,0.2864],[4.2810,0.2833],[4.3050,0.2829],[4.3291,0.2836],[4.3531,0.2833],[4.3772,0.2847],[4.4013,0.2836],[4.4254,0.2829],
   [4.4494,0.2843],[4.4735,0.2857],[4.4976,0.2874],[4.5216,0.2885],[4.5577,0.2891]]
];

const BOT_NO_SO2 = [
  [[3.9560,0.2878],[3.9801,0.2867],[4.0042,0.2878],[4.0282,0.2867],[4.0523,0.2857]]
];

const BOT_NO_CO = [
  [[4.4555,0.2912],[4.4735,0.2878],[4.4976,0.2874],[4.5216,0.2857],[4.5457,0.2840],[4.5698,0.2850],[4.5938,0.2822],[4.6179,0.2836],
   [4.6480,0.2843],[4.6781,0.2850],[4.7021,0.2857],[4.7262,0.2871],[4.7503,0.2878],[4.7744,0.2888],[4.7984,0.2909],[4.8225,0.2898],
   [4.8465,0.2881],[4.8706,0.2878],[4.8947,0.2891],[4.9187,0.2891],[4.9428,0.2878],[4.9729,0.2871],[5.0030,0.2871],[5.0331,0.2864],
   [5.0632,0.2871],[5.0932,0.2857]]
];

const BOT_NO_NH3 = [
  [[1.4591,0.2878],[1.4771,0.2864],[1.4952,0.2857],[1.5132,0.2843],[1.5313,0.2822],[1.5493,0.2805],[1.5674,0.2809],[1.5854,0.2822],[1.6035,0.2850]],
  [[2.8731,0.2905],[2.8971,0.2888],[2.9212,0.2871],[2.9453,0.2871],[2.9693,0.2874],[2.9934,0.2871],[3.0175,0.2864],[3.0415,0.2867],
   [3.0656,0.2871],[3.0897,0.2867],[3.1077,0.2891]]
];

const BOT_NO_OCS = [
  [[4.7503,0.2905],[4.7744,0.2902],[4.7984,0.2912],[4.8225,0.2898],[4.8465,0.2878],[4.8706,0.2874],[4.8947,0.2871],[4.9187,0.2857],
   [4.9428,0.2857],[4.9729,0.2847],[5.0030,0.2857],[5.0331,0.2867],[5.0632,0.2864],[5.0932,0.2853],[5.1233,0.2847],[5.1787,0.2826],[5.2000,0.2822]]
];

// ---- helpers ----
function toData(segs) {
  const out = [];
  segs.forEach((seg, i) => {
    if (i) out.push({ x: seg[0][0], y: null });
    seg.forEach(p => out.push({ x: p[0], y: p[1] }));
  });
  return out;
}

function line(segs, color, width) {
  return { type: 'line', data: toData(segs), borderColor: color, borderWidth: width,
           pointRadius: 0, tension: 0, spanGaps: false, fill: false };
}

function obsSet(rows, style) {
  return {
    type: 'scatter', errorBars: true,
    data: rows.map(r => ({ x: r[0], y: r[1], ey: r[2], ex: r[3] || 0 })),
    pointStyle: style, pointRadius: style === 'rect' ? 4.6 : 4,
    backgroundColor: '#b0b0b0', borderWidth: 0
  };
}

// error bars under the models
const errorBars = {
  id: 'errorBars',
  beforeDatasetsDraw(chart) {
    const { ctx, chartArea: a } = chart;
    const xs = chart.scales.x, ys = chart.scales.y;
    ctx.save();
    ctx.beginPath();
    ctx.rect(a.left, a.top, a.right - a.left, a.bottom - a.top);
    ctx.clip();
    ctx.strokeStyle = '#c2c2c2';
    ctx.lineWidth = 2;
    chart.data.datasets.filter(d => d.errorBars).forEach(d => {
      d.data.forEach(p => {
        const px = xs.getPixelForValue(p.x), py = ys.getPixelForValue(p.y);
        ctx.beginPath();
        ctx.moveTo(px, ys.getPixelForValue(p.y - p.ey));
        ctx.lineTo(px, ys.getPixelForValue(p.y + p.ey));
        if (p.ex) {
          ctx.moveTo(xs.getPixelForValue(p.x - p.ex), py);
          ctx.lineTo(xs.getPixelForValue(p.x + p.ex), py);
        }
        ctx.stroke();
      });
    });
    ctx.restore();
  }
};

// box with inward ticks on all four sides
const frame = {
  id: 'frame',
  afterDatasetsDraw(chart) {
    const { ctx, chartArea: a } = chart;
    const xs = chart.scales.x, ys = chart.scales.y;
    ctx.save();
    ctx.strokeStyle = '#8a8a8a';
    ctx.lineWidth = 1.5;
    ctx.strokeRect(a.left, a.top, a.right - a.left, a.bottom - a.top);
    ctx.beginPath();
    for (let i = 5; i <= 52; i++) {
      const px = Math.round(xs.getPixelForValue(i / 10)) + 0.5;
      const len = i % 5 === 0 ? 12 : 7;
      ctx.moveTo(px, a.bottom); ctx.lineTo(px, a.bottom - len);
      ctx.moveTo(px, a.top); ctx.lineTo(px, a.top + len);
    }
    const j0 = Math.ceil(ys.min / 0.002 - 1e-6), j1 = Math.floor(ys.max / 0.002 + 1e-6);
    for (let j = j0; j <= j1; j++) {
      const py = Math.round(ys.getPixelForValue(j * 0.002)) + 0.5;
      const len = j % 5 === 0 ? 12 : 7;
      ctx.moveTo(a.left, py); ctx.lineTo(a.left + len, py);
      ctx.moveTo(a.right, py); ctx.lineTo(a.right - len, py);
    }
    ctx.stroke();
    ctx.restore();
  }
};

function options(yMin, yMax, yTicks, xHeight, padTop, xTitle) {
  return {
    responsive: true, maintainAspectRatio: false, animation: false, events: [],
    layout: { padding: { top: padTop, right: 2, left: 0, bottom: 0 } },
    plugins: { legend: { display: false }, tooltip: { enabled: false } },
    scales: {
      x: {
        type: 'linear', min: 0.5, max: 5.2,
        afterBuildTicks: s => { s.ticks = X_TICKS.map(v => ({ value: v })); },
        afterFit: s => { s.height = xHeight; },
        grid: { display: false, drawTicks: false }, border: { display: false },
        ticks: { padding: 8, color: '#222', font: { size: 23, family: FONT }, maxRotation: 0, autoSkip: false,
                 callback: v => String(v) },
        title: { display: !!xTitle, text: 'Wavelength [μm]', color: '#222',
                 font: { size: 25, family: FONT, lineHeight: 1 }, padding: { top: 0, bottom: 0 } }
      },
      y: {
        min: yMin, max: yMax,
        afterBuildTicks: s => { s.ticks = yTicks.map(v => ({ value: v })); },
        afterFit: s => { s.width = 96; },
        grid: { display: false, drawTicks: false }, border: { display: false },
        ticks: { padding: 9, color: '#222', font: { size: 23, family: FONT }, autoSkip: false,
                 callback: v => String(v) },
        title: { display: true, text: 'Transit Depth [%]', color: '#222',
                 font: { size: 25, family: FONT, lineHeight: 1 }, padding: { top: 10, bottom: 0 } }
      }
    }
  };
}

new Chart(document.getElementById('topChart'), {
  data: {
    datasets: [
      line(TOP_EPACRIS, '#000000', 3),
      line(TOP_NO_SO2, '#ee33ee', 1.6),
      line(TOP_NO_CO2, '#ee2222', 1.6),
      line(TOP_NO_OCS, '#f2a93b', 1.6),
      line(TOP_NO_OCS_B, '#7ab4f5', 1.6),
      line(TOP_NO_CO, '#22b5b5', 1.6),
      line(TOP_NO_H2O, '#2020dd', 1.6),
      line(TOP_NO_CH4, '#33e633', 1.6),
      obsSet(TOP_OBS, 'circle')
    ]
  },
  options: options(0.27, 0.31, TOP_Y_TICKS, 28, 22, false),
  plugins: [errorBars, frame]
});

new Chart(document.getElementById('botChart'), {
  data: {
    datasets: [
      line(BOT_EPACRIS, '#000000', 3.5),
      line(BOT_NO_SO2, '#ee33ee', 1.6),
      line(BOT_NO_CO2, '#ee2222', 1.6),
      line(BOT_NO_NH3, '#f2a93b', 1.6),
      line(BOT_NO_OCS, '#7ab4f5', 1.6),
      line(BOT_NO_CO, '#22b5b5', 1.6),
      line(BOT_NO_H2O, '#2020dd', 1.8),
      line(BOT_NO_CH4, '#33e633', 1.8),
      obsSet(BOT_OBS, 'rect')
    ]
  },
  options: options(0.261, 0.3212, BOT_Y_TICKS, 66, 15, true),
  plugins: [errorBars, frame]
});
</script>
</body>
</html>
